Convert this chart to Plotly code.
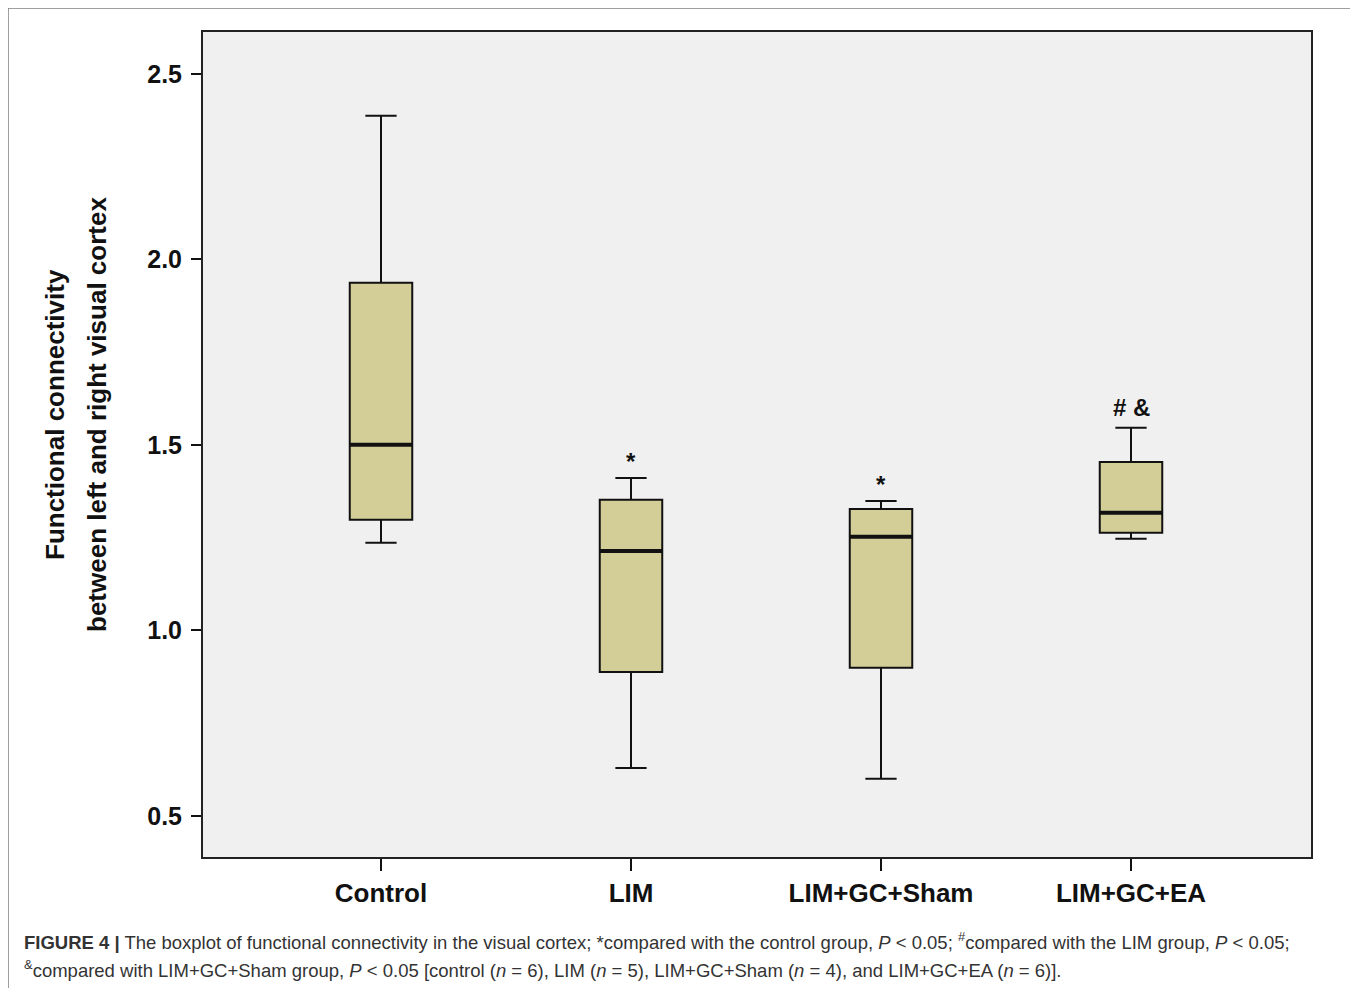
import plotly.graph_objects as go

groups = ["Control", "LIM", "LIM+GC+Sham", "LIM+GC+EA"]
lower = [1.236, 0.629, 0.600, 1.247]
q1 = [1.298, 0.888, 0.899, 1.263]
median = [1.500, 1.214, 1.252, 1.317]
q3 = [1.937, 1.352, 1.327, 1.454]
upper = [2.387, 1.411, 1.349, 1.546]
marks = ["", "*", "*", "# &"]
yticks = [0.5, 1.0, 1.5, 2.0, 2.5]

pos = list(range(len(groups)))
box_w = 0.25
fill = "#d3ce97"

fig = go.Figure()
fig.add_trace(go.Box(
    x=pos, q1=q1, median=median, q3=q3, lowerfence=lower, upperfence=upper,
    width=box_w, whiskerwidth=0.5, boxpoints=False,
    fillcolor=fill, line=dict(color="#111111", width=2),
    hoverinfo="skip", showlegend=False,
))

shapes = []
for i, m in zip(pos, median):
    shapes.append(dict(type="line", xref="x", yref="y",
                       x0=i - box_w / 2, x1=i + box_w / 2, y0=m, y1=m,
                       line=dict(color="#111111", width=4)))

# page has an 8px body margin: work in reference coords, shift by OFF
OFF = 8
L, R, T, B = 203, 1311, 32, 857
W, H = 1358 - OFF, 988 - OFF
pw, ph = R - L, B - T
def px(xp):
    return (xp - L) / pw
def py(yp):
    return (B - yp) / ph
shapes.append(dict(type="rect", xref="paper", yref="paper",
                   x0=px(8), x1=px(1353), y0=py(1010), y1=py(8),
                   line=dict(color="#808080", width=1.5), layer="below"))

annotations = []
for i, u, m in zip(pos, upper, marks):
    if m:
        shift = 1 if m == "*" else 5
        annotations.append(dict(x=i, y=u, xref="x", yref="y", text="<b>%s</b>" % m,
                                showarrow=False, yanchor="bottom", yshift=shift,
                                font=dict(family="Liberation Sans, Arial", size=24, color="#111111")))

title_font = dict(family="Liberation Sans, Arial", size=26, color="#111111")
annotations.append(dict(
    x=px(55), y=py(415), xref="paper", yref="paper", textangle=-90,
    text="<b>Functional connectivity</b>",
    showarrow=False, xanchor="center", yanchor="middle", font=title_font))
annotations.append(dict(
    x=px(97), y=py(415), xref="paper", yref="paper", textangle=-90,
    text="<b>between left and right visual cortex</b>",
    showarrow=False, xanchor="center", yanchor="middle", font=title_font))

cap_font = dict(family="Liberation Sans, Arial", size=18.5, color="#333333")
annotations.append(dict(
    x=px(22), y=py(941), xref="paper", yref="paper", xanchor="left", yanchor="middle",
    showarrow=False, align="left", font=cap_font,
    text="<b>FIGURE 4 |</b> The boxplot of functional connectivity in the visual cortex; *compared with the control group, <i>P</i> &lt; 0.05; <sup>#</sup>compared with the LIM group, <i>P</i> &lt; 0.05;"))
annotations.append(dict(
    x=px(22), y=py(969), xref="paper", yref="paper", xanchor="left", yanchor="middle",
    showarrow=False, align="left", font=cap_font,
    text="<sup>&amp;</sup>compared with LIM+GC+Sham group, <i>P</i> &lt; 0.05 [control (<i>n</i> = 6), LIM (<i>n</i> = 5), LIM+GC+Sham (<i>n</i> = 4), and LIM+GC+EA (<i>n</i> = 6)]."))

fig.update_layout(
    width=W, height=H,
    margin=dict(l=L - OFF, r=W - (R - OFF), t=T - OFF, b=H - (B - OFF)),
    paper_bgcolor="white", plot_bgcolor="#f0f0f0",
    shapes=shapes, annotations=annotations,
    font=dict(family="Liberation Sans, Arial", color="#111111"),
    xaxis=dict(range=[-0.712, 3.72], tickvals=pos,
               ticktext=["<b>%s</b>" % g for g in groups],
               tickfont=dict(size=26, color="#111111"),
               ticks="outside", ticklen=12, tickwidth=2, tickcolor="#111111",
               showline=True, linewidth=2, linecolor="#222222", mirror=True,
               showgrid=False, zeroline=False, fixedrange=True),
    yaxis=dict(range=[0.389, 2.613], tickvals=yticks,
               ticktext=["<b>%.1f</b>" % v for v in yticks],
               tickfont=dict(size=25, color="#111111"),
               ticks="outside", ticklen=10, tickwidth=2, tickcolor="#111111",
               ticklabelstandoff=4,
               showline=True, linewidth=2, linecolor="#222222", mirror=True,
               showgrid=False, zeroline=False, fixedrange=True),
)

fig.write_html("out.html")
